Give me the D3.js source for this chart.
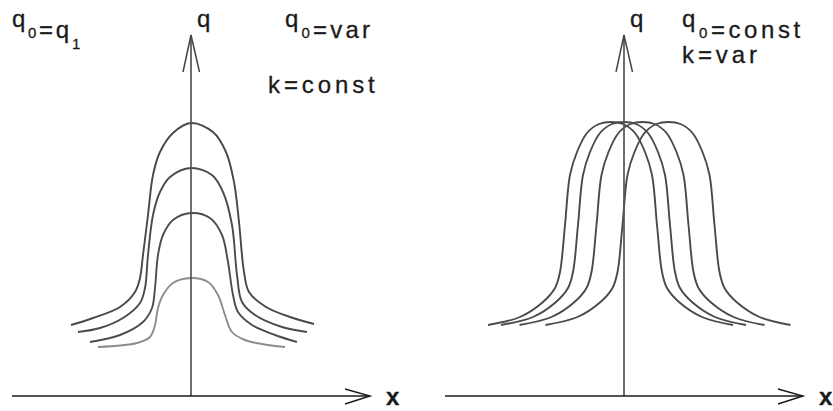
<!DOCTYPE html>
<html>
<head>
<meta charset="utf-8">
<script src="https://cdn.jsdelivr.net/npm/d3@7"></script>
<style>
  html, body { margin: 0; padding: 0; background: #fff; }
  svg { display: block; }
  text { font-family: "Liberation Sans", Arial, sans-serif; fill: #1a1a1a; stroke: #1a1a1a; stroke-width: 0.3; }
</style>
</head>
<body>
<svg id="chart" width="833" height="411"></svg>
<script>
// Left panel: four profiles with different peak heights q0 (k fixed).
// Each profile is a list of [x, q] pairs.
const leftCurve1 = [[-12.0,7.1],[-9.8,7.8],[-7.1,8.9],[-5.6,10.4],[-5.1,11.8],[-4.8,14.1],[-4.3,18.1],[-3.8,22.1],[-3.1,24.4],[-1.8,26.3],[0,27.3],[2.2,26.4],[3.5,24.4],[4.3,21.4],[4.8,17.4],[5.3,12.4],[5.8,10.4],[7.5,8.9],[10.2,7.8],[12.3,7.2]];
const leftCurve2 = [[-11.3,6.4],[-9.1,6.8],[-6.8,7.8],[-5.1,9.3],[-4.6,10.8],[-4.3,14.1],[-3.8,18.1],[-3.1,20.4],[-2.1,21.9],[0,22.8],[2.1,22.1],[3.2,20.4],[4.1,17.1],[4.6,12.1],[5.1,9.4],[6.4,8.1],[9.1,6.9],[11.6,6.4]];
const leftCurve3 = [[-10.1,5.4],[-7.1,6.1],[-4.8,7.4],[-3.9,8.8],[-3.6,10.8],[-3.3,14.1],[-2.8,16.1],[-1.8,17.6],[0,18.3],[1.9,17.8],[3.1,16.1],[3.7,13.4],[4.2,10.1],[4.7,8.4],[6.1,7.1],[8.4,6.1],[10.6,5.4]];
const leftCurve4 = [[-9.3,4.9],[-5.4,5.3],[-4.1,5.9],[-3.6,7.1],[-3.3,8.8],[-2.8,10.1],[-1.8,11.3],[0,11.8],[1.7,11.4],[2.7,10.1],[3.4,8.1],[4.1,6.4],[5.4,5.6],[7.1,5.2],[9.4,4.9]];
const leftCurves = [leftCurve1, leftCurve2, leftCurve3, leftCurve4];
const leftColors = ["#484848", "#4a4a4a", "#4d4d4d", "#8c8c8c"];

// Right panel: one profile (same q0) placed at different offsets (k varies).
const rightProfile = [[-12.3,7.1],[-9.1,7.9],[-6.8,9.4],[-5.6,10.8],[-5.1,12.4],[-4.6,17.1],[-4.1,22.1],[-3.4,24.4],[-2.4,26.3],[-1.2,27.2],[0,27.4],[1.2,27.2],[2.4,26.3],[3.4,24.4],[4.1,22.1],[4.6,17.1],[5.1,12.4],[5.6,10.8],[6.8,9.4],[9.1,7.9],[12.2,7.1]];
const rightShifts = [-1.3, 0.0, 1.85, 4.45];

// Axis extents in data units
const xAxisMin = -17.9, xAxisMax = 17.9, qAxisMax = 36.1;

const svg = d3.select("#chart");

function panel(cx, curves, colors, labels) {
  const x = d3.scaleLinear().domain([-18, 18]).range([cx - 180, cx + 180]);
  const y = d3.scaleLinear().domain([0, 36]).range([396, 36]);
  const g = svg.append("g");

  const line = d3.line().x(d => x(d[0])).y(d => y(d[1])).curve(d3.curveCatmullRom.alpha(0.5));

  g.selectAll("path.curve").data(curves).join("path")
    .attr("class", "curve")
    .attr("d", line)
    .attr("fill", "none")
    .attr("stroke", (d, i) => colors[i])
    .attr("stroke-width", 1.9);

  // q axis with open arrowhead
  g.append("line")
    .attr("x1", x(0)).attr("x2", x(0))
    .attr("y1", y(0)).attr("y2", y(qAxisMax))
    .attr("stroke", "#555").attr("stroke-width", 1.7);
  g.append("path")
    .attr("d", `M${x(-0.8)},${y(qAxisMax - 3.7)}L${x(0)},${y(qAxisMax)}L${x(0.85)},${y(qAxisMax - 3.7)}`)
    .attr("fill", "none").attr("stroke", "#444").attr("stroke-width", 1.5);

  // x axis with open arrowhead
  g.append("line")
    .attr("x1", x(xAxisMin)).attr("x2", x(xAxisMax))
    .attr("y1", y(0)).attr("y2", y(0))
    .attr("stroke", "#1a1a1a").attr("stroke-width", 1.6);
  g.append("path")
    .attr("d", `M${x(xAxisMax - 2.5)},${y(0.7)}L${x(xAxisMax)},${y(0)}L${x(xAxisMax - 2.5)},${y(-0.8)}`)
    .attr("fill", "none").attr("stroke", "#1a1a1a").attr("stroke-width", 1.4);

  // axis names
  g.append("text").attr("x", x(0.6)).attr("y", 27)
    .attr("font-size", 24).text("q");
  g.append("text").attr("x", x(xAxisMax + 1.6)).attr("y", 405)
    .attr("font-size", 24).attr("font-weight", "bold").text("x");

  // parameter annotations, with subscripts
  labels.forEach(l => {
    const t = g.append("text").attr("x", l.x).attr("y", l.y)
      .attr("font-size", 24).attr("letter-spacing", l.ls);
    l.parts.forEach(p => {
      if (p.sub) {
        t.append("tspan").attr("dy", 11).attr("font-size", 15).text(p.t);
        t.append("tspan").attr("dy", -11).text("");
      } else {
        t.append("tspan").text(p.t);
      }
    });
  });
}

panel(191, leftCurves, leftColors, [
  { x: 12, y: 27, ls: 2.7, parts: [{t: "q"}, {t: "0", sub: true}, {t: "=q"}, {t: "1", sub: true}] },
  { x: 285, y: 27, ls: 3.2, parts: [{t: "q"}, {t: "0", sub: true}, {t: "=var"}] },
  { x: 268, y: 93, ls: 3.9, parts: [{t: "k=const"}] }
]);

panel(624, rightShifts.map(s => rightProfile.map(p => [p[0] + s, p[1]])),
  ["#4a4a4a", "#4a4a4a", "#4a4a4a", "#4a4a4a"], [
  { x: 682, y: 27, ls: 3.6, parts: [{t: "q"}, {t: "0", sub: true}, {t: "=const"}] },
  { x: 682, y: 63, ls: 3.9, parts: [{t: "k=var"}] }
]);
</script>
</body>
</html>
